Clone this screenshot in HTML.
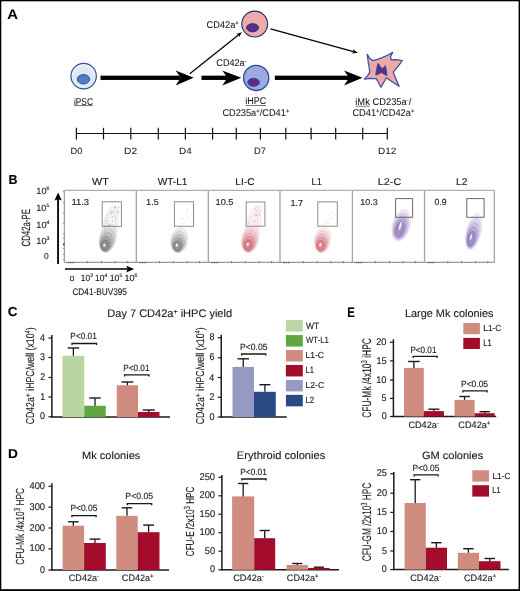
<!DOCTYPE html>
<html><head><meta charset="utf-8"><style>
html,body{margin:0;padding:0;background:#fff;}
svg{display:block;will-change:transform;}
text{font-family:"Liberation Sans", sans-serif;text-rendering:geometricPrecision;stroke:#1a1a1a;stroke-width:0.12px;}
.l{stroke-width:0.06px;}
</style></head><body>
<svg width="520" height="591" viewBox="0 0 520 591">
<rect width="520" height="591" fill="#fff"/>
<rect x="0" y="0" width="520" height="1.3" fill="#000" />
<rect x="0" y="0" width="1.3" height="591" fill="#000" />
<rect x="518.6" y="0" width="1.4" height="591" fill="#000" />
<rect x="0" y="589.2" width="520" height="1.8" fill="#000" />
<text x="7.39" y="19.00" font-size="13.967" fill="#000" class="l" font-weight="bold" textLength="10.73" lengthAdjust="spacingAndGlyphs">A</text>
<defs><radialGradient id="gp" cx="0.5" cy="0.55" r="0.5"><stop offset="0" stop-color="#d9e2f2"/><stop offset="0.8" stop-color="#e2e9f5"/><stop offset="1" stop-color="#f2f5fb"/></radialGradient></defs>
<circle cx="83.65" cy="76.1" r="12.7" fill="url(#gp)" stroke="#2f4f9a" stroke-width="1.2"/>
<ellipse cx="83.5" cy="79.25" rx="6.2" ry="4.7" fill="#4f7cc4" stroke="#2f4f9a" stroke-width="1.0"/>
<circle cx="254.7" cy="24.05" r="12.9" fill="#eeaaa8" stroke="#1f2c6e" stroke-width="1.1"/>
<ellipse cx="252.6" cy="27.75" rx="5.95" ry="4.05" fill="#5c2d8c" stroke="#1f2c6e" stroke-width="1.0"/>
<circle cx="256.2" cy="77.9" r="12.6" fill="#9eaadb" stroke="#2f4a9e" stroke-width="1.3"/>
<ellipse cx="253.6" cy="82.3" rx="5.9" ry="4.0" fill="#5c2a8a" stroke="#2f4a9e" stroke-width="1.0"/>
<polygon points="367.25,54.4 369.6,58.2 372.5,60.6 377.5,59.4 382.2,57.6 388,55 392.7,52.4 390.5,56.8 391.3,59.8 395.9,59.6 402.4,60.5 398.3,66.2 393.3,72.2 395.9,79.1 399.2,86.3 392.7,82.3 386.4,77.7 383.8,82.3 381,87.2 378.2,82.3 376.5,78.9 370.3,78.3 364.4,79.1 367.6,75.6 369.7,72.4 369.2,67.5 368.2,62" fill="#eea8a6" stroke="#3550a8" stroke-width="1.25" stroke-linejoin="round"/>
<polygon points="378.2,63.3 380.3,66.4 382.2,69 384,66.8 385.4,65.8 386.4,70.5 387,75.2 385.3,74.9 383.6,74 381.4,72.6 378.5,74.2 375.8,75 376.4,70.5 377.2,66.2" fill="#5a2e8c" stroke="#3550a8" stroke-width="1.0" stroke-linejoin="round"/>
<rect x="100.5" y="75.64999999999999" width="80.1" height="4.3" fill="#000" />
<polygon points="193.7,77.8 175.6,70.5 180.79999999999998,77.8 175.6,85.39999999999999" fill="#000"/>
<rect x="201.5" y="75.64999999999999" width="25.80000000000001" height="4.3" fill="#000" />
<polygon points="241.3,77.8 222.3,70.5 227.5,77.8 222.3,85.39999999999999" fill="#000"/>
<rect x="274.8" y="75.64999999999999" width="74.19999999999999" height="4.3" fill="#000" />
<polygon points="362.5,77.8 344,70.5 349.2,77.8 344,85.39999999999999" fill="#000"/>
<line x1="189.8" y1="73.8" x2="238.383457909405" y2="35.00783399172272" stroke="#000" stroke-width="1.25" />
<polygon points="241.9,32.2 238.97,37.35 238.54,34.88 236.23,33.91" fill="#000"/>
<line x1="270.5" y1="28.8" x2="353.4609804423758" y2="51.60714238965656" stroke="#000" stroke-width="1.25" />
<polygon points="357.8,52.8 351.91,53.46 353.65,51.66 353.08,49.22" fill="#000"/>
<text x="206.57" y="28.00" font-size="9.8" fill="#1a1a1a" class="l" textLength="32.18" lengthAdjust="spacingAndGlyphs">CD42a<tspan font-size="6.3" baseline-shift="3.1">+</tspan></text>
<text x="216.36" y="66.00" font-size="9.8" fill="#1a1a1a" class="l" textLength="30.27" lengthAdjust="spacingAndGlyphs">CD42a<tspan font-size="6.5" baseline-shift="3.4">-</tspan></text>
<text x="73.90" y="105.00" font-size="9.8" fill="#1a1a1a" class="l" textLength="19.03" lengthAdjust="spacingAndGlyphs">iPSC</text>
<line x1="74" y1="105.6" x2="92.9" y2="105.6" stroke="#666" stroke-width="0.9" />
<text x="245.37" y="104.00" font-size="9.8" fill="#1a1a1a" class="l" textLength="21.02" lengthAdjust="spacingAndGlyphs">iHPC</text>
<line x1="245.6" y1="105.5" x2="266" y2="105.5" stroke="#666" stroke-width="0.9" />
<text x="222.40" y="116.00" font-size="9.8" fill="#1a1a1a" class="l" textLength="66.95" lengthAdjust="spacingAndGlyphs">CD235a<tspan font-size="6.3" baseline-shift="3.1">+</tspan>/CD41<tspan font-size="6.3" baseline-shift="3.1">+</tspan></text>
<text x="355.27" y="104.60" font-size="9.8" fill="#1a1a1a" class="l" textLength="56.19" lengthAdjust="spacingAndGlyphs">iMk CD235a<tspan font-size="6.5" baseline-shift="3.4">-</tspan>/</text>
<line x1="355.8" y1="106.2" x2="369.6" y2="106.2" stroke="#666" stroke-width="0.9" />
<text x="352.41" y="116.00" font-size="9.8" fill="#1a1a1a" class="l" textLength="61.98" lengthAdjust="spacingAndGlyphs">CD41<tspan font-size="6.3" baseline-shift="3.1">+</tspan>/CD42a<tspan font-size="6.3" baseline-shift="3.1">+</tspan></text>
<line x1="76.4" y1="133.5" x2="387.3" y2="133.5" stroke="#111" stroke-width="1.2" />
<line x1="76.4" y1="127.8" x2="76.4" y2="139.4" stroke="#111" stroke-width="1.2" />
<line x1="103.5" y1="127.8" x2="103.5" y2="139.4" stroke="#111" stroke-width="1.2" />
<line x1="130.8" y1="127.8" x2="130.8" y2="139.4" stroke="#111" stroke-width="1.2" />
<line x1="158.3" y1="127.8" x2="158.3" y2="139.4" stroke="#111" stroke-width="1.2" />
<line x1="185.4" y1="127.8" x2="185.4" y2="139.4" stroke="#111" stroke-width="1.2" />
<line x1="212.6" y1="127.8" x2="212.6" y2="139.4" stroke="#111" stroke-width="1.2" />
<line x1="236.3" y1="127.8" x2="236.3" y2="139.4" stroke="#111" stroke-width="1.2" />
<line x1="260.4" y1="127.8" x2="260.4" y2="139.4" stroke="#111" stroke-width="1.2" />
<line x1="285.8" y1="127.8" x2="285.8" y2="139.4" stroke="#111" stroke-width="1.2" />
<line x1="311.1" y1="127.8" x2="311.1" y2="139.4" stroke="#111" stroke-width="1.2" />
<line x1="335.7" y1="127.8" x2="335.7" y2="139.4" stroke="#111" stroke-width="1.2" />
<line x1="362.7" y1="127.8" x2="362.7" y2="139.4" stroke="#111" stroke-width="1.2" />
<line x1="387.3" y1="127.8" x2="387.3" y2="139.4" stroke="#111" stroke-width="1.2" />
<text x="70.55" y="154.00" font-size="9.181" fill="#1a1a1a" class="l" textLength="11.82" lengthAdjust="spacingAndGlyphs">D0</text>
<text x="124.13" y="154.00" font-size="9.037" fill="#1a1a1a" class="l" textLength="12.98" lengthAdjust="spacingAndGlyphs">D2</text>
<text x="179.06" y="154.00" font-size="9.11" fill="#1a1a1a" class="l" textLength="12.63" lengthAdjust="spacingAndGlyphs">D4</text>
<text x="254.08" y="154.00" font-size="9.261" fill="#1a1a1a" class="l" textLength="11.90" lengthAdjust="spacingAndGlyphs">D7</text>
<text x="378.12" y="154.00" font-size="9.078" fill="#1a1a1a" class="l" textLength="18.25" lengthAdjust="spacingAndGlyphs">D12</text>
<text x="8.38" y="184.00" font-size="13.089" fill="#000" font-weight="bold" textLength="9.03" lengthAdjust="spacingAndGlyphs">B</text>
<line x1="64.4" y1="190.4" x2="64.4" y2="262.4" stroke="#a2a2a2" stroke-width="1.3" />
<line x1="136.3" y1="190.4" x2="136.3" y2="262.4" stroke="#a2a2a2" stroke-width="1.3" />
<line x1="208.3" y1="190.4" x2="208.3" y2="262.4" stroke="#a2a2a2" stroke-width="1.3" />
<line x1="280" y1="190.4" x2="280" y2="262.4" stroke="#a2a2a2" stroke-width="1.3" />
<line x1="352.4" y1="190.4" x2="352.4" y2="262.4" stroke="#a2a2a2" stroke-width="1.3" />
<line x1="424.5" y1="190.4" x2="424.5" y2="262.4" stroke="#a2a2a2" stroke-width="1.3" />
<line x1="494.4" y1="190.4" x2="494.4" y2="262.4" stroke="#a2a2a2" stroke-width="1.3" />
<line x1="64.4" y1="190.4" x2="494.4" y2="190.4" stroke="#b0b0b0" stroke-width="1.1" />
<line x1="64.4" y1="262.4" x2="136.3" y2="262.4" stroke="#9a9a9a" stroke-width="1.1" />
<line x1="67.9" y1="262.59999999999997" x2="74.4" y2="262.59999999999997" stroke="#555" stroke-width="1.3" stroke-dasharray="1.3 1"/>
<line x1="87.7" y1="261.2" x2="87.7" y2="263.2" stroke="#666" stroke-width="0.9" />
<line x1="101.5" y1="261.2" x2="101.5" y2="263.2" stroke="#666" stroke-width="0.9" />
<line x1="115.4" y1="261.2" x2="115.4" y2="263.2" stroke="#666" stroke-width="0.9" />
<line x1="127.7" y1="261.2" x2="127.7" y2="263.2" stroke="#666" stroke-width="0.9" />
<line x1="136.3" y1="262.4" x2="208.3" y2="262.4" stroke="#9a9a9a" stroke-width="1.1" />
<line x1="139.8" y1="262.59999999999997" x2="146.3" y2="262.59999999999997" stroke="#555" stroke-width="1.3" stroke-dasharray="1.3 1"/>
<line x1="159.60000000000002" y1="261.2" x2="159.60000000000002" y2="263.2" stroke="#666" stroke-width="0.9" />
<line x1="173.4" y1="261.2" x2="173.4" y2="263.2" stroke="#666" stroke-width="0.9" />
<line x1="187.3" y1="261.2" x2="187.3" y2="263.2" stroke="#666" stroke-width="0.9" />
<line x1="199.60000000000002" y1="261.2" x2="199.60000000000002" y2="263.2" stroke="#666" stroke-width="0.9" />
<line x1="208.3" y1="262.4" x2="280" y2="262.4" stroke="#9a9a9a" stroke-width="1.1" />
<line x1="211.8" y1="262.59999999999997" x2="218.3" y2="262.59999999999997" stroke="#555" stroke-width="1.3" stroke-dasharray="1.3 1"/>
<line x1="231.60000000000002" y1="261.2" x2="231.60000000000002" y2="263.2" stroke="#666" stroke-width="0.9" />
<line x1="245.4" y1="261.2" x2="245.4" y2="263.2" stroke="#666" stroke-width="0.9" />
<line x1="259.3" y1="261.2" x2="259.3" y2="263.2" stroke="#666" stroke-width="0.9" />
<line x1="271.6" y1="261.2" x2="271.6" y2="263.2" stroke="#666" stroke-width="0.9" />
<line x1="280" y1="262.4" x2="352.4" y2="262.4" stroke="#9a9a9a" stroke-width="1.1" />
<line x1="283.5" y1="262.59999999999997" x2="290" y2="262.59999999999997" stroke="#555" stroke-width="1.3" stroke-dasharray="1.3 1"/>
<line x1="303.3" y1="261.2" x2="303.3" y2="263.2" stroke="#666" stroke-width="0.9" />
<line x1="317.1" y1="261.2" x2="317.1" y2="263.2" stroke="#666" stroke-width="0.9" />
<line x1="331.0" y1="261.2" x2="331.0" y2="263.2" stroke="#666" stroke-width="0.9" />
<line x1="343.3" y1="261.2" x2="343.3" y2="263.2" stroke="#666" stroke-width="0.9" />
<line x1="352.4" y1="262.4" x2="424.5" y2="262.4" stroke="#9a9a9a" stroke-width="1.1" />
<line x1="355.9" y1="262.59999999999997" x2="362.4" y2="262.59999999999997" stroke="#555" stroke-width="1.3" stroke-dasharray="1.3 1"/>
<line x1="375.7" y1="261.2" x2="375.7" y2="263.2" stroke="#666" stroke-width="0.9" />
<line x1="389.5" y1="261.2" x2="389.5" y2="263.2" stroke="#666" stroke-width="0.9" />
<line x1="403.4" y1="261.2" x2="403.4" y2="263.2" stroke="#666" stroke-width="0.9" />
<line x1="415.7" y1="261.2" x2="415.7" y2="263.2" stroke="#666" stroke-width="0.9" />
<line x1="424.5" y1="262.4" x2="494.4" y2="262.4" stroke="#9a9a9a" stroke-width="1.1" />
<line x1="428.0" y1="262.59999999999997" x2="434.5" y2="262.59999999999997" stroke="#555" stroke-width="1.3" stroke-dasharray="1.3 1"/>
<line x1="447.8" y1="261.2" x2="447.8" y2="263.2" stroke="#666" stroke-width="0.9" />
<line x1="461.6" y1="261.2" x2="461.6" y2="263.2" stroke="#666" stroke-width="0.9" />
<line x1="475.5" y1="261.2" x2="475.5" y2="263.2" stroke="#666" stroke-width="0.9" />
<line x1="487.8" y1="261.2" x2="487.8" y2="263.2" stroke="#666" stroke-width="0.9" />
<text x="92.14" y="185.00" font-size="10.102" fill="#1a1a1a" textLength="16.80" lengthAdjust="spacingAndGlyphs">WT</text>
<text x="157.68" y="185.00" font-size="10.088" fill="#1a1a1a" textLength="29.76" lengthAdjust="spacingAndGlyphs">WT-L1</text>
<text x="235.33" y="185.00" font-size="9.798" fill="#1a1a1a" textLength="19.19" lengthAdjust="spacingAndGlyphs">LI-C</text>
<text x="311.57" y="185.00" font-size="9.938" fill="#1a1a1a" textLength="10.16" lengthAdjust="spacingAndGlyphs">L1</text>
<text x="377.87" y="185.00" font-size="9.699" fill="#1a1a1a" textLength="23.31" lengthAdjust="spacingAndGlyphs">L2-C</text>
<text x="455.90" y="185.00" font-size="9.827" fill="#1a1a1a" textLength="11.54" lengthAdjust="spacingAndGlyphs">L2</text>
<text x="71.41" y="205.00" font-size="8.628" fill="#1a1a1a" textLength="17.74" lengthAdjust="spacingAndGlyphs">11.3</text>
<text x="146.09" y="205.00" font-size="8.791" fill="#1a1a1a" textLength="12.73" lengthAdjust="spacingAndGlyphs">1.5</text>
<text x="215.59" y="205.00" font-size="8.597" fill="#1a1a1a" textLength="17.91" lengthAdjust="spacingAndGlyphs">10.5</text>
<text x="290.42" y="206.00" font-size="8.612" fill="#1a1a1a" textLength="12.50" lengthAdjust="spacingAndGlyphs">1.7</text>
<text x="360.27" y="205.00" font-size="8.567" fill="#1a1a1a" textLength="17.60" lengthAdjust="spacingAndGlyphs">10.3</text>
<text x="434.62" y="205.00" font-size="8.828" fill="#1a1a1a" textLength="12.07" lengthAdjust="spacingAndGlyphs">0.9</text>
<ellipse cx="109.75" cy="228.90" rx="7.22" ry="23.88" transform="rotate(11.5 109.75 228.90)" fill="#d4d4d4" fill-opacity="0.25" stroke="#999999" stroke-opacity="0.35" stroke-width="0.45"/>
<ellipse cx="110.00" cy="226.56" rx="4.68" ry="14.36" transform="rotate(12.1 110.00 226.56)" fill="#d4d4d4" fill-opacity="0.0" stroke="#999999" stroke-opacity="0.4" stroke-width="0.45"/>
<ellipse cx="107.75" cy="238.65" rx="8.50" ry="14.03" transform="rotate(13.4 107.75 238.65)" fill="#999999" fill-opacity="0.16" stroke="#999999" stroke-opacity="0.4" stroke-width="0.45"/>
<ellipse cx="107.11" cy="240.29" rx="7.33" ry="11.78" transform="rotate(12.9 107.11 240.29)" fill="#858585" fill-opacity="0.185" stroke="#858585" stroke-opacity="0.48750000000000004" stroke-width="0.45"/>
<ellipse cx="106.48" cy="241.93" rx="6.16" ry="9.53" transform="rotate(12.2 106.48 241.93)" fill="#727272" fill-opacity="0.21000000000000002" stroke="#727272" stroke-opacity="0.575" stroke-width="0.45"/>
<ellipse cx="105.84" cy="243.57" rx="4.99" ry="7.29" transform="rotate(11.0 105.84 243.57)" fill="#5e5e5e" fill-opacity="0.23500000000000001" stroke="#5e5e5e" stroke-opacity="0.6625" stroke-width="0.45"/>
<ellipse cx="105.21" cy="245.21" rx="3.82" ry="5.05" transform="rotate(8.7 105.21 245.21)" fill="#4a4a4a" fill-opacity="0.26" stroke="#4a4a4a" stroke-opacity="0.75" stroke-width="0.45"/>
<ellipse cx="104.3" cy="245.3" rx="1.1" ry="1.5" transform="rotate(15 104.3 245.3)" fill="#fff" fill-opacity="0.9"/>
<ellipse cx="179.25" cy="240.40" rx="8.50" ry="12.60" transform="rotate(10.3 179.25 240.40)" fill="#999999" fill-opacity="0.16" stroke="#999999" stroke-opacity="0.4" stroke-width="0.45"/>
<ellipse cx="178.80" cy="241.74" rx="7.33" ry="10.65" transform="rotate(9.8 178.80 241.74)" fill="#858585" fill-opacity="0.185" stroke="#858585" stroke-opacity="0.48750000000000004" stroke-width="0.45"/>
<ellipse cx="178.35" cy="243.08" rx="6.16" ry="8.70" transform="rotate(9.1 178.35 243.08)" fill="#727272" fill-opacity="0.21000000000000002" stroke="#727272" stroke-opacity="0.575" stroke-width="0.45"/>
<ellipse cx="177.91" cy="244.42" rx="4.99" ry="6.76" transform="rotate(8.1 177.91 244.42)" fill="#5e5e5e" fill-opacity="0.23500000000000001" stroke="#5e5e5e" stroke-opacity="0.6625" stroke-width="0.45"/>
<ellipse cx="177.46" cy="245.76" rx="3.82" ry="4.82" transform="rotate(6.2 177.46 245.76)" fill="#4a4a4a" fill-opacity="0.26" stroke="#4a4a4a" stroke-opacity="0.75" stroke-width="0.45"/>
<ellipse cx="176.8" cy="245.3" rx="1.1" ry="1.5" transform="rotate(15 176.8 245.3)" fill="#fff" fill-opacity="0.9"/>
<ellipse cx="252.15" cy="230.00" rx="7.22" ry="22.92" transform="rotate(10.9 252.15 230.00)" fill="#f4c8ce" fill-opacity="0.25" stroke="#e08a94" stroke-opacity="0.35" stroke-width="0.45"/>
<ellipse cx="252.36" cy="227.75" rx="4.68" ry="13.78" transform="rotate(11.6 252.36 227.75)" fill="#f4c8ce" fill-opacity="0.0" stroke="#e08a94" stroke-opacity="0.4" stroke-width="0.45"/>
<ellipse cx="249.90" cy="239.50" rx="8.50" ry="13.26" transform="rotate(11.3 249.90 239.50)" fill="#e08a94" fill-opacity="0.16" stroke="#e08a94" stroke-opacity="0.4" stroke-width="0.45"/>
<ellipse cx="249.48" cy="240.85" rx="7.33" ry="11.24" transform="rotate(11.0 249.48 240.85)" fill="#d87681" fill-opacity="0.185" stroke="#d87681" stroke-opacity="0.48750000000000004" stroke-width="0.45"/>
<ellipse cx="249.06" cy="242.20" rx="6.16" ry="9.21" transform="rotate(10.5 249.06 242.20)" fill="#d0616e" fill-opacity="0.21000000000000002" stroke="#d0616e" stroke-opacity="0.575" stroke-width="0.45"/>
<ellipse cx="248.63" cy="243.54" rx="4.99" ry="7.19" transform="rotate(9.8 248.63 243.54)" fill="#c84c5b" fill-opacity="0.23500000000000001" stroke="#c84c5b" stroke-opacity="0.6625" stroke-width="0.45"/>
<ellipse cx="248.21" cy="244.89" rx="3.82" ry="5.17" transform="rotate(8.5 248.21 244.89)" fill="#c03848" fill-opacity="0.26" stroke="#c03848" stroke-opacity="0.75" stroke-width="0.45"/>
<ellipse cx="247.8" cy="244.2" rx="1.1" ry="1.5" transform="rotate(15 247.8 244.2)" fill="#fff" fill-opacity="0.9"/>
<ellipse cx="322.50" cy="240.15" rx="8.00" ry="12.81" transform="rotate(9.0 322.50 240.15)" fill="#e08a94" fill-opacity="0.16" stroke="#e08a94" stroke-opacity="0.4" stroke-width="0.45"/>
<ellipse cx="322.10" cy="241.46" rx="6.90" ry="10.85" transform="rotate(8.6 322.10 241.46)" fill="#d87681" fill-opacity="0.185" stroke="#d87681" stroke-opacity="0.48750000000000004" stroke-width="0.45"/>
<ellipse cx="321.70" cy="242.77" rx="5.80" ry="8.90" transform="rotate(7.9 321.70 242.77)" fill="#d0616e" fill-opacity="0.21000000000000002" stroke="#d0616e" stroke-opacity="0.575" stroke-width="0.45"/>
<ellipse cx="321.30" cy="244.08" rx="4.70" ry="6.95" transform="rotate(6.9 321.30 244.08)" fill="#c84c5b" fill-opacity="0.23500000000000001" stroke="#c84c5b" stroke-opacity="0.6625" stroke-width="0.45"/>
<ellipse cx="320.89" cy="245.38" rx="3.60" ry="5.01" transform="rotate(5.2 320.89 245.38)" fill="#c03848" fill-opacity="0.26" stroke="#c03848" stroke-opacity="0.75" stroke-width="0.45"/>
<ellipse cx="320.3" cy="244.7" rx="1.1" ry="1.5" transform="rotate(15 320.3 244.7)" fill="#fff" fill-opacity="0.9"/>
<ellipse cx="401.25" cy="225.35" rx="8.75" ry="16.22" transform="rotate(15.2 401.25 225.35)" fill="#a792d0" fill-opacity="0.16" stroke="#a792d0" stroke-opacity="0.4" stroke-width="0.45"/>
<ellipse cx="400.89" cy="226.29" rx="7.55" ry="14.05" transform="rotate(15.0 400.89 226.29)" fill="#9680c4" fill-opacity="0.185" stroke="#9680c4" stroke-opacity="0.48750000000000004" stroke-width="0.45"/>
<ellipse cx="400.52" cy="227.23" rx="6.34" ry="11.88" transform="rotate(14.8 400.52 227.23)" fill="#866eb8" fill-opacity="0.21000000000000002" stroke="#866eb8" stroke-opacity="0.575" stroke-width="0.45"/>
<ellipse cx="400.16" cy="228.17" rx="5.14" ry="9.72" transform="rotate(14.4 400.16 228.17)" fill="#765cac" fill-opacity="0.23500000000000001" stroke="#765cac" stroke-opacity="0.6625" stroke-width="0.45"/>
<ellipse cx="399.80" cy="229.11" rx="3.94" ry="7.55" transform="rotate(13.8 399.80 229.11)" fill="#654aa0" fill-opacity="0.26" stroke="#654aa0" stroke-opacity="0.75" stroke-width="0.45"/>
<ellipse cx="400.3" cy="225.8" rx="0.9" ry="4.2" transform="rotate(15 400.3 225.8)" fill="#fff" fill-opacity="0.9"/>
<ellipse cx="473.75" cy="231.55" rx="7.25" ry="18.45" transform="rotate(13.3 473.75 231.55)" fill="#a792d0" fill-opacity="0.16" stroke="#a792d0" stroke-opacity="0.4" stroke-width="0.45"/>
<ellipse cx="473.15" cy="233.27" rx="6.25" ry="15.69" transform="rotate(13.0 473.15 233.27)" fill="#9680c4" fill-opacity="0.185" stroke="#9680c4" stroke-opacity="0.48750000000000004" stroke-width="0.45"/>
<ellipse cx="472.55" cy="235.00" rx="5.26" ry="12.94" transform="rotate(12.6 472.55 235.00)" fill="#866eb8" fill-opacity="0.21000000000000002" stroke="#866eb8" stroke-opacity="0.575" stroke-width="0.45"/>
<ellipse cx="471.95" cy="236.72" rx="4.26" ry="10.18" transform="rotate(12.0 471.95 236.72)" fill="#765cac" fill-opacity="0.23500000000000001" stroke="#765cac" stroke-opacity="0.6625" stroke-width="0.45"/>
<ellipse cx="471.35" cy="238.45" rx="3.26" ry="7.43" transform="rotate(10.9 471.35 238.45)" fill="#654aa0" fill-opacity="0.26" stroke="#654aa0" stroke-opacity="0.75" stroke-width="0.45"/>
<ellipse cx="471.0" cy="237.0" rx="0.8" ry="2.8" transform="rotate(15 471.0 237.0)" fill="#fff" fill-opacity="0.9"/>
<rect x="112.36" y="220.41" width="0.7" height="0.7" fill="#666" fill-opacity="0.55"/>
<rect x="105.27" y="225.05" width="0.7" height="0.7" fill="#666" fill-opacity="0.55"/>
<rect x="106.79" y="225.60" width="0.7" height="0.7" fill="#666" fill-opacity="0.55"/>
<rect x="112.33" y="216.78" width="0.7" height="0.7" fill="#666" fill-opacity="0.55"/>
<rect x="111.84" y="216.36" width="0.7" height="0.7" fill="#666" fill-opacity="0.55"/>
<rect x="104.86" y="219.90" width="0.7" height="0.7" fill="#666" fill-opacity="0.55"/>
<rect x="107.23" y="214.80" width="0.7" height="0.7" fill="#666" fill-opacity="0.55"/>
<rect x="108.70" y="225.24" width="0.7" height="0.7" fill="#666" fill-opacity="0.55"/>
<rect x="109.99" y="224.12" width="0.7" height="0.7" fill="#666" fill-opacity="0.55"/>
<rect x="116.64" y="208.61" width="0.7" height="0.7" fill="#666" fill-opacity="0.55"/>
<rect x="111.18" y="212.57" width="0.7" height="0.7" fill="#666" fill-opacity="0.55"/>
<rect x="109.15" y="225.74" width="0.7" height="0.7" fill="#666" fill-opacity="0.55"/>
<rect x="111.85" y="211.05" width="0.7" height="0.7" fill="#666" fill-opacity="0.55"/>
<rect x="110.81" y="213.19" width="0.7" height="0.7" fill="#666" fill-opacity="0.55"/>
<rect x="114.40" y="207.22" width="0.7" height="0.7" fill="#666" fill-opacity="0.55"/>
<rect x="107.62" y="212.89" width="0.7" height="0.7" fill="#666" fill-opacity="0.55"/>
<rect x="112.65" y="212.21" width="0.7" height="0.7" fill="#666" fill-opacity="0.55"/>
<rect x="104.37" y="224.99" width="0.7" height="0.7" fill="#666" fill-opacity="0.55"/>
<rect x="107.73" y="223.37" width="0.7" height="0.7" fill="#666" fill-opacity="0.55"/>
<rect x="114.02" y="209.66" width="0.7" height="0.7" fill="#666" fill-opacity="0.55"/>
<rect x="114.30" y="207.41" width="0.7" height="0.7" fill="#666" fill-opacity="0.55"/>
<rect x="110.50" y="212.20" width="0.7" height="0.7" fill="#666" fill-opacity="0.55"/>
<rect x="118.19" y="206.45" width="0.7" height="0.7" fill="#666" fill-opacity="0.55"/>
<rect x="117.35" y="211.64" width="0.7" height="0.7" fill="#666" fill-opacity="0.55"/>
<rect x="118.23" y="211.39" width="0.7" height="0.7" fill="#666" fill-opacity="0.55"/>
<rect x="106.95" y="221.15" width="0.7" height="0.7" fill="#666" fill-opacity="0.55"/>
<rect x="105.63" y="226.60" width="0.7" height="0.7" fill="#666" fill-opacity="0.55"/>
<rect x="112.16" y="224.81" width="0.7" height="0.7" fill="#666" fill-opacity="0.55"/>
<rect x="108.26" y="224.89" width="0.7" height="0.7" fill="#666" fill-opacity="0.55"/>
<rect x="118.22" y="206.62" width="0.7" height="0.7" fill="#666" fill-opacity="0.55"/>
<rect x="116.01" y="212.58" width="0.7" height="0.7" fill="#666" fill-opacity="0.55"/>
<rect x="115.24" y="207.28" width="0.7" height="0.7" fill="#666" fill-opacity="0.55"/>
<rect x="115.35" y="216.72" width="0.7" height="0.7" fill="#666" fill-opacity="0.55"/>
<rect x="109.27" y="224.03" width="0.7" height="0.7" fill="#666" fill-opacity="0.55"/>
<rect x="105.89" y="221.53" width="0.7" height="0.7" fill="#666" fill-opacity="0.55"/>
<rect x="112.24" y="220.72" width="0.7" height="0.7" fill="#666" fill-opacity="0.55"/>
<rect x="104.90" y="217.14" width="0.7" height="0.7" fill="#666" fill-opacity="0.55"/>
<rect x="110.42" y="210.29" width="0.7" height="0.7" fill="#666" fill-opacity="0.55"/>
<rect x="118.95" y="211.48" width="0.7" height="0.7" fill="#666" fill-opacity="0.55"/>
<rect x="118.07" y="207.01" width="0.7" height="0.7" fill="#666" fill-opacity="0.55"/>
<rect x="182.06" y="219.43" width="0.7" height="0.7" fill="#777" fill-opacity="0.5"/>
<rect x="186.12" y="214.46" width="0.7" height="0.7" fill="#777" fill-opacity="0.5"/>
<rect x="182.35" y="223.60" width="0.7" height="0.7" fill="#777" fill-opacity="0.5"/>
<rect x="181.08" y="225.95" width="0.7" height="0.7" fill="#777" fill-opacity="0.5"/>
<rect x="179.82" y="225.14" width="0.7" height="0.7" fill="#777" fill-opacity="0.5"/>
<rect x="186.57" y="209.14" width="0.7" height="0.7" fill="#777" fill-opacity="0.5"/>
<rect x="180.31" y="222.73" width="0.7" height="0.7" fill="#777" fill-opacity="0.5"/>
<rect x="184.79" y="221.98" width="0.7" height="0.7" fill="#777" fill-opacity="0.5"/>
<rect x="182.66" y="217.72" width="0.7" height="0.7" fill="#777" fill-opacity="0.5"/>
<rect x="179.15" y="225.61" width="0.7" height="0.7" fill="#777" fill-opacity="0.5"/>
<rect x="187.43" y="210.61" width="0.7" height="0.7" fill="#777" fill-opacity="0.5"/>
<rect x="187.00" y="207.88" width="0.7" height="0.7" fill="#777" fill-opacity="0.5"/>
<rect x="187.31" y="216.34" width="0.7" height="0.7" fill="#777" fill-opacity="0.5"/>
<rect x="252.38" y="221.44" width="0.7" height="0.7" fill="#c85060" fill-opacity="0.55"/>
<rect x="254.23" y="208.89" width="0.7" height="0.7" fill="#c85060" fill-opacity="0.55"/>
<rect x="254.83" y="221.22" width="0.7" height="0.7" fill="#c85060" fill-opacity="0.55"/>
<rect x="258.79" y="207.46" width="0.7" height="0.7" fill="#c85060" fill-opacity="0.55"/>
<rect x="255.56" y="215.29" width="0.7" height="0.7" fill="#c85060" fill-opacity="0.55"/>
<rect x="250.72" y="227.12" width="0.7" height="0.7" fill="#c85060" fill-opacity="0.55"/>
<rect x="260.25" y="210.78" width="0.7" height="0.7" fill="#c85060" fill-opacity="0.55"/>
<rect x="254.74" y="219.32" width="0.7" height="0.7" fill="#c85060" fill-opacity="0.55"/>
<rect x="253.73" y="223.82" width="0.7" height="0.7" fill="#c85060" fill-opacity="0.55"/>
<rect x="261.24" y="205.33" width="0.7" height="0.7" fill="#c85060" fill-opacity="0.55"/>
<rect x="257.58" y="211.58" width="0.7" height="0.7" fill="#c85060" fill-opacity="0.55"/>
<rect x="260.99" y="210.87" width="0.7" height="0.7" fill="#c85060" fill-opacity="0.55"/>
<rect x="256.69" y="209.83" width="0.7" height="0.7" fill="#c85060" fill-opacity="0.55"/>
<rect x="256.41" y="210.41" width="0.7" height="0.7" fill="#c85060" fill-opacity="0.55"/>
<rect x="258.43" y="205.27" width="0.7" height="0.7" fill="#c85060" fill-opacity="0.55"/>
<rect x="255.18" y="225.84" width="0.7" height="0.7" fill="#c85060" fill-opacity="0.55"/>
<rect x="261.60" y="209.94" width="0.7" height="0.7" fill="#c85060" fill-opacity="0.55"/>
<rect x="256.52" y="214.51" width="0.7" height="0.7" fill="#c85060" fill-opacity="0.55"/>
<rect x="255.45" y="206.35" width="0.7" height="0.7" fill="#c85060" fill-opacity="0.55"/>
<rect x="259.44" y="208.74" width="0.7" height="0.7" fill="#c85060" fill-opacity="0.55"/>
<rect x="253.90" y="221.59" width="0.7" height="0.7" fill="#c85060" fill-opacity="0.55"/>
<rect x="252.22" y="221.29" width="0.7" height="0.7" fill="#c85060" fill-opacity="0.55"/>
<rect x="258.15" y="206.95" width="0.7" height="0.7" fill="#c85060" fill-opacity="0.55"/>
<rect x="258.71" y="212.99" width="0.7" height="0.7" fill="#c85060" fill-opacity="0.55"/>
<rect x="256.84" y="205.88" width="0.7" height="0.7" fill="#c85060" fill-opacity="0.55"/>
<rect x="258.63" y="215.09" width="0.7" height="0.7" fill="#c85060" fill-opacity="0.55"/>
<rect x="257.05" y="222.83" width="0.7" height="0.7" fill="#c85060" fill-opacity="0.55"/>
<rect x="248.58" y="223.30" width="0.7" height="0.7" fill="#c85060" fill-opacity="0.55"/>
<rect x="254.93" y="215.27" width="0.7" height="0.7" fill="#c85060" fill-opacity="0.55"/>
<rect x="256.55" y="213.76" width="0.7" height="0.7" fill="#c85060" fill-opacity="0.55"/>
<rect x="256.37" y="214.92" width="0.7" height="0.7" fill="#c85060" fill-opacity="0.55"/>
<rect x="255.27" y="209.18" width="0.7" height="0.7" fill="#c85060" fill-opacity="0.55"/>
<rect x="260.61" y="208.95" width="0.7" height="0.7" fill="#c85060" fill-opacity="0.55"/>
<rect x="253.90" y="212.87" width="0.7" height="0.7" fill="#c85060" fill-opacity="0.55"/>
<rect x="254.74" y="211.43" width="0.7" height="0.7" fill="#c85060" fill-opacity="0.55"/>
<rect x="259.11" y="215.45" width="0.7" height="0.7" fill="#c85060" fill-opacity="0.55"/>
<rect x="261.27" y="206.56" width="0.7" height="0.7" fill="#c85060" fill-opacity="0.55"/>
<rect x="260.78" y="213.46" width="0.7" height="0.7" fill="#c85060" fill-opacity="0.55"/>
<rect x="254.09" y="224.59" width="0.7" height="0.7" fill="#c85060" fill-opacity="0.55"/>
<rect x="251.57" y="225.72" width="0.7" height="0.7" fill="#c85060" fill-opacity="0.55"/>
<rect x="330.38" y="212.20" width="0.7" height="0.7" fill="#d06070" fill-opacity="0.5"/>
<rect x="323.18" y="222.63" width="0.7" height="0.7" fill="#d06070" fill-opacity="0.5"/>
<rect x="328.81" y="222.53" width="0.7" height="0.7" fill="#d06070" fill-opacity="0.5"/>
<rect x="327.10" y="222.53" width="0.7" height="0.7" fill="#d06070" fill-opacity="0.5"/>
<rect x="332.18" y="217.62" width="0.7" height="0.7" fill="#d06070" fill-opacity="0.5"/>
<rect x="321.26" y="224.43" width="0.7" height="0.7" fill="#d06070" fill-opacity="0.5"/>
<rect x="326.61" y="221.38" width="0.7" height="0.7" fill="#d06070" fill-opacity="0.5"/>
<rect x="332.98" y="213.43" width="0.7" height="0.7" fill="#d06070" fill-opacity="0.5"/>
<rect x="329.17" y="218.73" width="0.7" height="0.7" fill="#d06070" fill-opacity="0.5"/>
<rect x="327.84" y="215.12" width="0.7" height="0.7" fill="#d06070" fill-opacity="0.5"/>
<rect x="323.40" y="225.29" width="0.7" height="0.7" fill="#d06070" fill-opacity="0.5"/>
<rect x="330.17" y="212.72" width="0.7" height="0.7" fill="#d06070" fill-opacity="0.5"/>
<rect x="330.71" y="218.00" width="0.7" height="0.7" fill="#d06070" fill-opacity="0.5"/>
<rect x="102.2" y="201.8" width="19.20" height="24.60" fill="none" stroke="#8c8c8c" stroke-width="1.0"/>
<rect x="174.4" y="201.8" width="19.10" height="24.50" fill="none" stroke="#8c8c8c" stroke-width="1.0"/>
<rect x="246.2" y="202" width="18.70" height="24.20" fill="none" stroke="#8c8c8c" stroke-width="1.0"/>
<rect x="317.8" y="201.9" width="19.50" height="24.30" fill="none" stroke="#8c8c8c" stroke-width="1.0"/>
<rect x="395.6" y="198.6" width="17.00" height="18.70" fill="none" stroke="#6a6a6a" stroke-width="1.0"/>
<rect x="466.8" y="198.6" width="17.30" height="18.70" fill="none" stroke="#6a6a6a" stroke-width="1.0"/>
<line x1="62.9" y1="191.2" x2="64.4" y2="191.2" stroke="#777" stroke-width="0.8" />
<line x1="62.9" y1="202.8" x2="64.4" y2="202.8" stroke="#777" stroke-width="0.8" />
<line x1="62.9" y1="213" x2="64.4" y2="213" stroke="#777" stroke-width="0.8" />
<line x1="62.9" y1="223.3" x2="64.4" y2="223.3" stroke="#777" stroke-width="0.8" />
<line x1="62.9" y1="233.6" x2="64.4" y2="233.6" stroke="#777" stroke-width="0.8" />
<line x1="62.9" y1="238.1" x2="64.4" y2="238.1" stroke="#777" stroke-width="0.8" />
<line x1="62.9" y1="243.9" x2="64.4" y2="243.9" stroke="#777" stroke-width="0.8" />
<line x1="62.9" y1="248.4" x2="64.4" y2="248.4" stroke="#777" stroke-width="0.8" />
<line x1="62.9" y1="254.2" x2="64.4" y2="254.2" stroke="#777" stroke-width="0.8" />
<line x1="62.9" y1="259.5" x2="64.4" y2="259.5" stroke="#777" stroke-width="0.8" />
<rect x="63.1" y="243.8" width="1.4" height="1.4" fill="#222"/>
<line x1="58.05" y1="198" x2="58.05" y2="263.9" stroke="#000" stroke-width="1.8" />
<polygon points="58.1,192.4 54.5,200.6 58.1,199.2 61.8,200.6" fill="#000"/>
<line x1="65" y1="269" x2="129" y2="269" stroke="#000" stroke-width="1.7" />
<polygon points="134.2,269 126.2,265.7 127.7,269 126.2,272.4" fill="#000"/>
<text x="36.28" y="194.00" font-size="9.0" fill="#1a1a1a" textLength="13.27" lengthAdjust="spacingAndGlyphs">10<tspan font-size="5.2" baseline-shift="3.6">6</tspan></text>
<text x="36.29" y="211.00" font-size="9.0" fill="#1a1a1a" textLength="13.10" lengthAdjust="spacingAndGlyphs">10<tspan font-size="5.2" baseline-shift="3.6">5</tspan></text>
<text x="36.29" y="228.00" font-size="9.0" fill="#1a1a1a" textLength="13.24" lengthAdjust="spacingAndGlyphs">10<tspan font-size="5.2" baseline-shift="3.6">4</tspan></text>
<text x="36.24" y="244.00" font-size="9.0" fill="#1a1a1a" textLength="13.28" lengthAdjust="spacingAndGlyphs">10<tspan font-size="5.2" baseline-shift="3.6">3</tspan></text>
<text x="44.05" y="259.00" font-size="8.634" fill="#1a1a1a" textLength="4.68" lengthAdjust="spacingAndGlyphs">0</text>
<text x="30.41" y="246.43" font-size="11.912" fill="#1a1a1a" textLength="37.34" lengthAdjust="spacingAndGlyphs" transform="rotate(-90 30.41 246.43)">CD42a-PE</text>
<text x="69.68" y="281.00" font-size="7.588" fill="#1a1a1a" textLength="4.62" lengthAdjust="spacingAndGlyphs">0</text>
<text x="80.83" y="281.00" font-size="9.0" fill="#1a1a1a" textLength="12.01" lengthAdjust="spacingAndGlyphs">10<tspan font-size="5.2" baseline-shift="3.6">3</tspan></text>
<text x="95.00" y="281.00" font-size="9.0" fill="#1a1a1a" textLength="12.23" lengthAdjust="spacingAndGlyphs">10<tspan font-size="5.2" baseline-shift="3.6">4</tspan></text>
<text x="109.75" y="281.00" font-size="9.0" fill="#1a1a1a" textLength="12.51" lengthAdjust="spacingAndGlyphs">10<tspan font-size="5.2" baseline-shift="3.6">5</tspan></text>
<text x="124.46" y="281.00" font-size="9.0" fill="#1a1a1a" textLength="13.01" lengthAdjust="spacingAndGlyphs">10<tspan font-size="5.2" baseline-shift="3.6">6</tspan></text>
<text x="72.42" y="295.00" font-size="9.633" fill="#1a1a1a" textLength="54.56" lengthAdjust="spacingAndGlyphs">CD41-BUV395</text>
<text x="7.88" y="316.00" font-size="13.0" fill="#000" font-weight="bold" textLength="9.70" lengthAdjust="spacingAndGlyphs">C</text>
<text x="107.34" y="316.70" font-size="11.0" fill="#1a1a1a" textLength="124.73" lengthAdjust="spacingAndGlyphs">Day 7 CD42a<tspan font-size="7" baseline-shift="3.2">+</tspan> iHPC yield</text>
<line x1="51.9" y1="335" x2="51.9" y2="417.70000000000005" stroke="#1a1a1a" stroke-width="1.5" />
<line x1="51.15" y1="417.1" x2="170" y2="417.1" stroke="#1a1a1a" stroke-width="1.5" />
<line x1="48.4" y1="416.75" x2="51.9" y2="416.75" stroke="#1a1a1a" stroke-width="1.2" />
<text x="45.02" y="419.00" font-size="9.8" fill="#1a1a1a" text-anchor="end" textLength="5.00" lengthAdjust="spacingAndGlyphs">0</text>
<line x1="48.4" y1="397" x2="51.9" y2="397" stroke="#1a1a1a" stroke-width="1.2" />
<text x="45.33" y="400.00" font-size="9.8" fill="#1a1a1a" text-anchor="end" textLength="5.00" lengthAdjust="spacingAndGlyphs">1</text>
<line x1="48.4" y1="377.5" x2="51.9" y2="377.5" stroke="#1a1a1a" stroke-width="1.2" />
<text x="45.31" y="380.00" font-size="9.8" fill="#1a1a1a" text-anchor="end" textLength="5.00" lengthAdjust="spacingAndGlyphs">2</text>
<line x1="48.4" y1="357.5" x2="51.9" y2="357.5" stroke="#1a1a1a" stroke-width="1.2" />
<text x="45.04" y="360.00" font-size="9.8" fill="#1a1a1a" text-anchor="end" textLength="5.00" lengthAdjust="spacingAndGlyphs">3</text>
<line x1="48.4" y1="338" x2="51.9" y2="338" stroke="#1a1a1a" stroke-width="1.2" />
<text x="45.04" y="341.00" font-size="9.8" fill="#1a1a1a" text-anchor="end" textLength="5.00" lengthAdjust="spacingAndGlyphs">4</text>
<rect x="62.5" y="355.75" width="21.75" height="61.35000000000002" fill="#b9d5a0" />
<line x1="73.375" y1="355.75" x2="73.375" y2="348" stroke="#1a1a1a" stroke-width="1.3" />
<line x1="67.6" y1="348" x2="79.15" y2="348" stroke="#1a1a1a" stroke-width="1.4" />
<rect x="84.25" y="405.75" width="21.5" height="11.350000000000023" fill="#62a640" />
<line x1="95.0" y1="405.75" x2="95.0" y2="398" stroke="#1a1a1a" stroke-width="1.3" />
<line x1="89.225" y1="398" x2="100.775" y2="398" stroke="#1a1a1a" stroke-width="1.4" />
<rect x="116.75" y="385.25" width="21.25" height="31.850000000000023" fill="#d08c7f" />
<line x1="127.375" y1="385.25" x2="127.375" y2="382" stroke="#1a1a1a" stroke-width="1.3" />
<line x1="121.435" y1="382" x2="133.315" y2="382" stroke="#1a1a1a" stroke-width="1.4" />
<rect x="138" y="412" width="21.5" height="5.100000000000023" fill="#a40c2b" />
<line x1="148.75" y1="412" x2="148.75" y2="410" stroke="#1a1a1a" stroke-width="1.3" />
<line x1="142.7" y1="410" x2="154.8" y2="410" stroke="#1a1a1a" stroke-width="1.4" />
<text x="70.37" y="339.00" font-size="9.1" fill="#1a1a1a" textLength="26.45" lengthAdjust="spacingAndGlyphs">P&lt;0.01</text>
<polyline points="72,345.1 72,343.5 96.6,343.5 96.6,345.1" fill="none" stroke="#1a1a1a" stroke-width="1.3"/>
<text x="123.30" y="371.00" font-size="9.1" fill="#1a1a1a" textLength="26.18" lengthAdjust="spacingAndGlyphs">P&lt;0.01</text>
<polyline points="124.6,376.5 124.6,374.9 148.9,374.9 148.9,376.5" fill="none" stroke="#1a1a1a" stroke-width="1.3"/>
<text x="33.67" y="424.36" font-size="11.468" fill="#1a1a1a" textLength="97.00" lengthAdjust="spacingAndGlyphs" transform="rotate(-90 33.67 424.36)">CD42a<tspan font-size="9" baseline-shift="3.4">+</tspan> iHPC/well (x10<tspan font-size="7.5" baseline-shift="4.2">4</tspan>)</text>
<line x1="221.25" y1="334.8" x2="221.25" y2="417.6" stroke="#1a1a1a" stroke-width="1.5" />
<line x1="220.5" y1="417" x2="286.8" y2="417" stroke="#1a1a1a" stroke-width="1.5" />
<line x1="217.75" y1="417" x2="221.25" y2="417" stroke="#1a1a1a" stroke-width="1.2" />
<text x="214.45" y="420.00" font-size="9.8" fill="#1a1a1a" text-anchor="end" textLength="5.00" lengthAdjust="spacingAndGlyphs">0</text>
<line x1="217.75" y1="397.3" x2="221.25" y2="397.3" stroke="#1a1a1a" stroke-width="1.2" />
<text x="214.41" y="400.00" font-size="9.8" fill="#1a1a1a" text-anchor="end" textLength="5.00" lengthAdjust="spacingAndGlyphs">2</text>
<line x1="217.75" y1="377.5" x2="221.25" y2="377.5" stroke="#1a1a1a" stroke-width="1.2" />
<text x="214.35" y="381.00" font-size="9.8" fill="#1a1a1a" text-anchor="end" textLength="5.00" lengthAdjust="spacingAndGlyphs">4</text>
<line x1="217.75" y1="357.8" x2="221.25" y2="357.8" stroke="#1a1a1a" stroke-width="1.2" />
<text x="214.52" y="360.00" font-size="9.8" fill="#1a1a1a" text-anchor="end" textLength="5.00" lengthAdjust="spacingAndGlyphs">6</text>
<line x1="217.75" y1="337.7" x2="221.25" y2="337.7" stroke="#1a1a1a" stroke-width="1.2" />
<text x="214.46" y="340.00" font-size="9.8" fill="#1a1a1a" text-anchor="end" textLength="5.00" lengthAdjust="spacingAndGlyphs">8</text>
<rect x="232.5" y="366.9" width="21.5" height="50.10000000000002" fill="#9699c1" />
<line x1="243.25" y1="366.9" x2="243.25" y2="358.8" stroke="#1a1a1a" stroke-width="1.3" />
<line x1="237.475" y1="358.8" x2="249.025" y2="358.8" stroke="#1a1a1a" stroke-width="1.4" />
<rect x="254" y="391.8" width="21.80000000000001" height="25.19999999999999" fill="#2b4a83" />
<line x1="264.9" y1="391.8" x2="264.9" y2="384.7" stroke="#1a1a1a" stroke-width="1.3" />
<line x1="259.4" y1="384.7" x2="270.4" y2="384.7" stroke="#1a1a1a" stroke-width="1.4" />
<text x="239.97" y="350.00" font-size="9.1" fill="#1a1a1a" textLength="27.58" lengthAdjust="spacingAndGlyphs">P&lt;0.05</text>
<polyline points="241.6,355.6 241.6,354 265.8,354 265.8,355.6" fill="none" stroke="#1a1a1a" stroke-width="1.3"/>
<text x="203.67" y="424.36" font-size="11.468" fill="#1a1a1a" textLength="97.00" lengthAdjust="spacingAndGlyphs" transform="rotate(-90 203.67 424.36)">CD42a<tspan font-size="9" baseline-shift="3.4">+</tspan> iHPC/well (x10<tspan font-size="7.5" baseline-shift="4.2">4</tspan>)</text>
<rect x="285.9" y="320.1" width="16.9" height="11.5" fill="#b9d5a0" />
<text x="306.06" y="329.00" font-size="8.956" fill="#1a1a1a" textLength="13.29" lengthAdjust="spacingAndGlyphs">WT</text>
<rect x="285.9" y="335.05" width="16.9" height="11.5" fill="#62a640" />
<text x="306.08" y="343.00" font-size="9.007" fill="#1a1a1a" textLength="22.76" lengthAdjust="spacingAndGlyphs">WT-L1</text>
<rect x="285.9" y="350.0" width="16.9" height="11.5" fill="#d08c7f" />
<text x="305.48" y="358.00" font-size="8.787" fill="#1a1a1a" textLength="18.50" lengthAdjust="spacingAndGlyphs">L1-C</text>
<rect x="285.9" y="364.95000000000005" width="16.9" height="11.5" fill="#a40c2b" />
<text x="305.56" y="373.00" font-size="9.221" fill="#1a1a1a" textLength="8.40" lengthAdjust="spacingAndGlyphs">L1</text>
<rect x="285.9" y="379.90000000000003" width="16.9" height="11.5" fill="#9699c1" />
<text x="305.52" y="388.00" font-size="8.69" fill="#1a1a1a" textLength="18.61" lengthAdjust="spacingAndGlyphs">L2-C</text>
<rect x="285.9" y="394.85" width="16.9" height="11.5" fill="#2b4a83" />
<text x="305.54" y="403.00" font-size="9.057" fill="#1a1a1a" textLength="8.69" lengthAdjust="spacingAndGlyphs">L2</text>
<text x="347.26" y="317.00" font-size="14.019" fill="#000" font-weight="bold" textLength="7.57" lengthAdjust="spacingAndGlyphs">E</text>
<text x="404.89" y="316.70" font-size="11.0" fill="#1a1a1a" textLength="88.72" lengthAdjust="spacingAndGlyphs">Large Mk colonies</text>
<rect x="463.3" y="323" width="16.599999999999966" height="11.199999999999989" fill="#d08c7f" />
<text x="483.27" y="331.00" font-size="8.762" fill="#1a1a1a" textLength="17.97" lengthAdjust="spacingAndGlyphs">L1-C</text>
<rect x="463.3" y="337.9" width="16.599999999999966" height="11.100000000000023" fill="#a40c2b" />
<text x="483.28" y="346.00" font-size="9.355" fill="#1a1a1a" textLength="8.39" lengthAdjust="spacingAndGlyphs">L1</text>
<line x1="393.4" y1="339.3" x2="393.4" y2="417.1" stroke="#1a1a1a" stroke-width="1.5" />
<line x1="392.65" y1="416.5" x2="496.2" y2="416.5" stroke="#1a1a1a" stroke-width="1.5" />
<line x1="389.9" y1="416.5" x2="393.4" y2="416.5" stroke="#1a1a1a" stroke-width="1.2" />
<text x="386.63" y="419.00" font-size="9.8" fill="#1a1a1a" text-anchor="end" textLength="5.00" lengthAdjust="spacingAndGlyphs">0</text>
<line x1="389.9" y1="398.4" x2="393.4" y2="398.4" stroke="#1a1a1a" stroke-width="1.2" />
<text x="386.58" y="401.00" font-size="9.8" fill="#1a1a1a" text-anchor="end" textLength="5.00" lengthAdjust="spacingAndGlyphs">5</text>
<line x1="389.9" y1="380" x2="393.4" y2="380" stroke="#1a1a1a" stroke-width="1.2" />
<text x="386.48" y="383.00" font-size="9.8" fill="#1a1a1a" text-anchor="end" textLength="10.30" lengthAdjust="spacingAndGlyphs">10</text>
<line x1="389.9" y1="360.9" x2="393.4" y2="360.9" stroke="#1a1a1a" stroke-width="1.2" />
<text x="386.72" y="364.00" font-size="9.8" fill="#1a1a1a" text-anchor="end" textLength="10.30" lengthAdjust="spacingAndGlyphs">15</text>
<line x1="389.9" y1="342.3" x2="393.4" y2="342.3" stroke="#1a1a1a" stroke-width="1.2" />
<text x="386.48" y="345.00" font-size="9.8" fill="#1a1a1a" text-anchor="end" textLength="10.30" lengthAdjust="spacingAndGlyphs">20</text>
<rect x="404" y="367.9" width="19.80000000000001" height="48.60000000000002" fill="#d08c7f" />
<line x1="413.9" y1="367.9" x2="413.9" y2="361.5" stroke="#1a1a1a" stroke-width="1.3" />
<line x1="408.125" y1="361.5" x2="419.67499999999995" y2="361.5" stroke="#1a1a1a" stroke-width="1.4" />
<rect x="423.8" y="411.1" width="20.099999999999966" height="5.399999999999977" fill="#a40c2b" />
<line x1="433.85" y1="411.1" x2="433.85" y2="409.2" stroke="#1a1a1a" stroke-width="1.3" />
<line x1="428.35" y1="409.2" x2="439.35" y2="409.2" stroke="#1a1a1a" stroke-width="1.4" />
<rect x="454.5" y="399.9" width="20.100000000000023" height="16.600000000000023" fill="#d08c7f" />
<line x1="464.55" y1="399.9" x2="464.55" y2="396.5" stroke="#1a1a1a" stroke-width="1.3" />
<line x1="459.27000000000004" y1="396.5" x2="469.83" y2="396.5" stroke="#1a1a1a" stroke-width="1.4" />
<rect x="474.6" y="413.2" width="20.099999999999966" height="3.3000000000000114" fill="#a40c2b" />
<line x1="484.65" y1="413.2" x2="484.65" y2="411.7" stroke="#1a1a1a" stroke-width="1.3" />
<line x1="479.42499999999995" y1="411.7" x2="489.875" y2="411.7" stroke="#1a1a1a" stroke-width="1.4" />
<text x="410.40" y="353.00" font-size="9.1" fill="#1a1a1a" textLength="26.04" lengthAdjust="spacingAndGlyphs">P&lt;0.01</text>
<polyline points="413.2,358.0 413.2,356.4 437.1,356.4 437.1,358.0" fill="none" stroke="#1a1a1a" stroke-width="1.3"/>
<text x="461.03" y="387.00" font-size="9.1" fill="#1a1a1a" textLength="27.06" lengthAdjust="spacingAndGlyphs">P&lt;0.05</text>
<polyline points="462.9,392.40000000000003 462.9,390.8 487.1,390.8 487.1,392.40000000000003" fill="none" stroke="#1a1a1a" stroke-width="1.3"/>
<text x="408.42" y="428.00" font-size="9.3" fill="#1a1a1a" textLength="30.63" lengthAdjust="spacingAndGlyphs">CD42a<tspan font-size="6.5" baseline-shift="3.4">-</tspan></text>
<text x="458.33" y="428.00" font-size="9.3" fill="#1a1a1a" textLength="32.12" lengthAdjust="spacingAndGlyphs">CD42a<tspan font-size="6.3" baseline-shift="3.1">+</tspan></text>
<text x="371.05" y="417.75" font-size="12.514" fill="#1a1a1a" textLength="79.62" lengthAdjust="spacingAndGlyphs" transform="rotate(-90 371.05 417.75)">CFU-Mk /4x10<tspan font-size="8.8" baseline-shift="4.3">3</tspan> iHPC</text>
<text x="7.94" y="458.00" font-size="12.857" fill="#000" font-weight="bold" textLength="9.90" lengthAdjust="spacingAndGlyphs">D</text>
<text x="82.08" y="459.00" font-size="10.488" fill="#1a1a1a" textLength="58.24" lengthAdjust="spacingAndGlyphs">Mk colonies</text>
<line x1="51.9" y1="483.2" x2="51.9" y2="570.6" stroke="#1a1a1a" stroke-width="1.5" />
<line x1="51.15" y1="570" x2="169" y2="570" stroke="#1a1a1a" stroke-width="1.5" />
<line x1="48.4" y1="570" x2="51.9" y2="570" stroke="#1a1a1a" stroke-width="1.2" />
<text x="45.02" y="573.00" font-size="9.8" fill="#1a1a1a" text-anchor="end" textLength="5.00" lengthAdjust="spacingAndGlyphs">0</text>
<line x1="48.4" y1="548.9" x2="51.9" y2="548.9" stroke="#1a1a1a" stroke-width="1.2" />
<text x="45.07" y="551.00" font-size="9.8" fill="#1a1a1a" text-anchor="end" textLength="15.60" lengthAdjust="spacingAndGlyphs">100</text>
<line x1="48.4" y1="528" x2="51.9" y2="528" stroke="#1a1a1a" stroke-width="1.2" />
<text x="45.07" y="531.00" font-size="9.8" fill="#1a1a1a" text-anchor="end" textLength="15.60" lengthAdjust="spacingAndGlyphs">200</text>
<line x1="48.4" y1="507.2" x2="51.9" y2="507.2" stroke="#1a1a1a" stroke-width="1.2" />
<text x="45.05" y="510.00" font-size="9.8" fill="#1a1a1a" text-anchor="end" textLength="15.60" lengthAdjust="spacingAndGlyphs">300</text>
<line x1="48.4" y1="486.3" x2="51.9" y2="486.3" stroke="#1a1a1a" stroke-width="1.2" />
<text x="45.06" y="489.00" font-size="9.8" fill="#1a1a1a" text-anchor="end" textLength="15.60" lengthAdjust="spacingAndGlyphs">400</text>
<rect x="62.6" y="525.7" width="21.499999999999993" height="44.299999999999955" fill="#d08c7f" />
<line x1="73.35" y1="525.7" x2="73.35" y2="521.8" stroke="#1a1a1a" stroke-width="1.3" />
<line x1="68.125" y1="521.8" x2="78.57499999999999" y2="521.8" stroke="#1a1a1a" stroke-width="1.4" />
<rect x="84.1" y="543" width="21.700000000000003" height="27" fill="#a40c2b" />
<line x1="94.94999999999999" y1="543" x2="94.94999999999999" y2="539.1" stroke="#1a1a1a" stroke-width="1.3" />
<line x1="89.505" y1="539.1" x2="100.39499999999998" y2="539.1" stroke="#1a1a1a" stroke-width="1.4" />
<rect x="116.3" y="515.8" width="21.39999999999999" height="54.200000000000045" fill="#d08c7f" />
<line x1="127.0" y1="515.8" x2="127.0" y2="507.8" stroke="#1a1a1a" stroke-width="1.3" />
<line x1="121.72" y1="507.8" x2="132.28" y2="507.8" stroke="#1a1a1a" stroke-width="1.4" />
<rect x="137.7" y="532.2" width="21.80000000000001" height="37.799999999999955" fill="#a40c2b" />
<line x1="148.6" y1="532.2" x2="148.6" y2="525.1" stroke="#1a1a1a" stroke-width="1.3" />
<line x1="143.20999999999998" y1="525.1" x2="153.99" y2="525.1" stroke="#1a1a1a" stroke-width="1.4" />
<text x="70.38" y="511.00" font-size="9.1" fill="#1a1a1a" textLength="26.97" lengthAdjust="spacingAndGlyphs">P&lt;0.05</text>
<polyline points="71.9,517.2 71.9,515.6 96.1,515.6 96.1,517.2" fill="none" stroke="#1a1a1a" stroke-width="1.3"/>
<text x="125.37" y="499.00" font-size="9.1" fill="#1a1a1a" textLength="27.73" lengthAdjust="spacingAndGlyphs">P&lt;0.05</text>
<polyline points="127.2,505.20000000000005 127.2,503.6 151.7,503.6 151.7,505.20000000000005" fill="none" stroke="#1a1a1a" stroke-width="1.3"/>
<text x="68.77" y="581.00" font-size="9.3" fill="#1a1a1a" textLength="30.45" lengthAdjust="spacingAndGlyphs">CD42a<tspan font-size="6.5" baseline-shift="3.4">-</tspan></text>
<text x="121.84" y="581.00" font-size="9.3" fill="#1a1a1a" textLength="31.83" lengthAdjust="spacingAndGlyphs">CD42a<tspan font-size="6.3" baseline-shift="3.1">+</tspan></text>
<text x="24.39" y="564.74" font-size="11.687" fill="#1a1a1a" textLength="76.70" lengthAdjust="spacingAndGlyphs" transform="rotate(-90 24.39 564.74)">CFU-Mk /4x10<tspan font-size="8.8" baseline-shift="4.3">3</tspan> HPC</text>
<text x="236.88" y="458.70" font-size="11.0" fill="#1a1a1a" textLength="88.34" lengthAdjust="spacingAndGlyphs">Erythroid colonies</text>
<line x1="221.9" y1="475" x2="221.9" y2="570.4" stroke="#1a1a1a" stroke-width="1.5" />
<line x1="221.15" y1="569.8" x2="339" y2="569.8" stroke="#1a1a1a" stroke-width="1.5" />
<line x1="218.4" y1="569.8" x2="221.9" y2="569.8" stroke="#1a1a1a" stroke-width="1.2" />
<text x="215.02" y="572.00" font-size="9.8" fill="#1a1a1a" text-anchor="end" textLength="5.00" lengthAdjust="spacingAndGlyphs">0</text>
<line x1="218.4" y1="551.2" x2="221.9" y2="551.2" stroke="#1a1a1a" stroke-width="1.2" />
<text x="215.12" y="554.00" font-size="9.8" fill="#1a1a1a" text-anchor="end" textLength="10.30" lengthAdjust="spacingAndGlyphs">50</text>
<line x1="218.4" y1="532.7" x2="221.9" y2="532.7" stroke="#1a1a1a" stroke-width="1.2" />
<text x="215.07" y="535.00" font-size="9.8" fill="#1a1a1a" text-anchor="end" textLength="15.60" lengthAdjust="spacingAndGlyphs">100</text>
<line x1="218.4" y1="514.2" x2="221.9" y2="514.2" stroke="#1a1a1a" stroke-width="1.2" />
<text x="215.09" y="517.00" font-size="9.8" fill="#1a1a1a" text-anchor="end" textLength="15.60" lengthAdjust="spacingAndGlyphs">150</text>
<line x1="218.4" y1="495.8" x2="221.9" y2="495.8" stroke="#1a1a1a" stroke-width="1.2" />
<text x="215.07" y="498.00" font-size="9.8" fill="#1a1a1a" text-anchor="end" textLength="15.60" lengthAdjust="spacingAndGlyphs">200</text>
<line x1="218.4" y1="477.3" x2="221.9" y2="477.3" stroke="#1a1a1a" stroke-width="1.2" />
<text x="215.06" y="480.00" font-size="9.8" fill="#1a1a1a" text-anchor="end" textLength="15.60" lengthAdjust="spacingAndGlyphs">250</text>
<rect x="232.1" y="496.4" width="22.099999999999994" height="73.39999999999998" fill="#d08c7f" />
<line x1="243.14999999999998" y1="496.4" x2="243.14999999999998" y2="483.5" stroke="#1a1a1a" stroke-width="1.3" />
<line x1="238.03499999999997" y1="483.5" x2="248.265" y2="483.5" stroke="#1a1a1a" stroke-width="1.4" />
<rect x="254.2" y="538.2" width="21.0" height="31.59999999999991" fill="#a40c2b" />
<line x1="264.7" y1="538.2" x2="264.7" y2="530.5" stroke="#1a1a1a" stroke-width="1.3" />
<line x1="259.64" y1="530.5" x2="269.76" y2="530.5" stroke="#1a1a1a" stroke-width="1.4" />
<rect x="286.5" y="565" width="21.600000000000023" height="4.7999999999999545" fill="#d08c7f" />
<line x1="297.3" y1="565" x2="297.3" y2="563.5" stroke="#1a1a1a" stroke-width="1.3" />
<line x1="292.24" y1="563.5" x2="302.36" y2="563.5" stroke="#1a1a1a" stroke-width="1.4" />
<rect x="308.1" y="568" width="21.5" height="1.7999999999999545" fill="#a40c2b" />
<line x1="318.85" y1="568" x2="318.85" y2="567.2" stroke="#1a1a1a" stroke-width="1.3" />
<line x1="313.735" y1="567.2" x2="323.96500000000003" y2="567.2" stroke="#1a1a1a" stroke-width="1.4" />
<text x="240.35" y="475.00" font-size="9.1" fill="#1a1a1a" textLength="26.46" lengthAdjust="spacingAndGlyphs">P&lt;0.01</text>
<polyline points="241.9,480.6 241.9,479 266.1,479 266.1,480.6" fill="none" stroke="#1a1a1a" stroke-width="1.3"/>
<text x="233.19" y="581.00" font-size="9.3" fill="#1a1a1a" textLength="30.86" lengthAdjust="spacingAndGlyphs">CD42a<tspan font-size="6.5" baseline-shift="3.4">-</tspan></text>
<text x="286.84" y="581.00" font-size="9.3" fill="#1a1a1a" textLength="31.83" lengthAdjust="spacingAndGlyphs">CD42a<tspan font-size="6.3" baseline-shift="3.1">+</tspan></text>
<text x="193.96" y="556.14" font-size="11.63" fill="#1a1a1a" textLength="69.36" lengthAdjust="spacingAndGlyphs" transform="rotate(-90 193.96 556.14)">CFU-E /2x10<tspan font-size="8.8" baseline-shift="4.3">3</tspan> HPC</text>
<text x="421.98" y="459.00" font-size="10.699" fill="#1a1a1a" textLength="61.22" lengthAdjust="spacingAndGlyphs">GM colonies</text>
<rect x="472.3" y="470.3" width="16.69999999999999" height="11.300000000000011" fill="#d08c7f" />
<text x="492.47" y="479.00" font-size="8.796" fill="#1a1a1a" textLength="18.09" lengthAdjust="spacingAndGlyphs">L1-C</text>
<rect x="472.3" y="485.2" width="16.69999999999999" height="11.400000000000034" fill="#a40c2b" />
<text x="492.33" y="493.00" font-size="8.813" fill="#1a1a1a" textLength="8.11" lengthAdjust="spacingAndGlyphs">L1</text>
<line x1="393.8" y1="472" x2="393.8" y2="570.2" stroke="#1a1a1a" stroke-width="1.5" />
<line x1="393.05" y1="569.6" x2="508.9" y2="569.6" stroke="#1a1a1a" stroke-width="1.5" />
<line x1="390.3" y1="569.6" x2="393.8" y2="569.6" stroke="#1a1a1a" stroke-width="1.2" />
<text x="386.82" y="572.00" font-size="9.8" fill="#1a1a1a" text-anchor="end" textLength="5.00" lengthAdjust="spacingAndGlyphs">0</text>
<line x1="390.3" y1="551" x2="393.8" y2="551" stroke="#1a1a1a" stroke-width="1.2" />
<text x="386.99" y="554.00" font-size="9.8" fill="#1a1a1a" text-anchor="end" textLength="5.00" lengthAdjust="spacingAndGlyphs">5</text>
<line x1="390.3" y1="531.5" x2="393.8" y2="531.5" stroke="#1a1a1a" stroke-width="1.2" />
<text x="387.04" y="534.00" font-size="9.8" fill="#1a1a1a" text-anchor="end" textLength="10.30" lengthAdjust="spacingAndGlyphs">10</text>
<line x1="390.3" y1="512.4" x2="393.8" y2="512.4" stroke="#1a1a1a" stroke-width="1.2" />
<text x="386.99" y="515.00" font-size="9.8" fill="#1a1a1a" text-anchor="end" textLength="10.30" lengthAdjust="spacingAndGlyphs">15</text>
<line x1="390.3" y1="493.2" x2="393.8" y2="493.2" stroke="#1a1a1a" stroke-width="1.2" />
<text x="387.04" y="496.00" font-size="9.8" fill="#1a1a1a" text-anchor="end" textLength="10.30" lengthAdjust="spacingAndGlyphs">20</text>
<line x1="390.3" y1="473.7" x2="393.8" y2="473.7" stroke="#1a1a1a" stroke-width="1.2" />
<text x="386.99" y="476.00" font-size="9.8" fill="#1a1a1a" text-anchor="end" textLength="10.30" lengthAdjust="spacingAndGlyphs">25</text>
<rect x="404.6" y="503" width="21.19999999999999" height="66.60000000000002" fill="#d08c7f" />
<line x1="415.20000000000005" y1="503" x2="415.20000000000005" y2="479.7" stroke="#1a1a1a" stroke-width="1.3" />
<line x1="409.975" y1="479.7" x2="420.42500000000007" y2="479.7" stroke="#1a1a1a" stroke-width="1.4" />
<rect x="425.8" y="547.7" width="21.19999999999999" height="21.899999999999977" fill="#a40c2b" />
<line x1="436.4" y1="547.7" x2="436.4" y2="542.7" stroke="#1a1a1a" stroke-width="1.3" />
<line x1="431.17499999999995" y1="542.7" x2="441.625" y2="542.7" stroke="#1a1a1a" stroke-width="1.4" />
<rect x="457.8" y="552.8" width="21.19999999999999" height="16.800000000000068" fill="#d08c7f" />
<line x1="468.4" y1="552.8" x2="468.4" y2="548.7" stroke="#1a1a1a" stroke-width="1.3" />
<line x1="463.17499999999995" y1="548.7" x2="473.625" y2="548.7" stroke="#1a1a1a" stroke-width="1.4" />
<rect x="479" y="561.2" width="21.5" height="8.399999999999977" fill="#a40c2b" />
<line x1="489.75" y1="561.2" x2="489.75" y2="558.5" stroke="#1a1a1a" stroke-width="1.3" />
<line x1="484.525" y1="558.5" x2="494.975" y2="558.5" stroke="#1a1a1a" stroke-width="1.4" />
<text x="412.39" y="471.00" font-size="9.1" fill="#1a1a1a" textLength="26.97" lengthAdjust="spacingAndGlyphs">P&lt;0.05</text>
<polyline points="414.1,476.40000000000003 414.1,474.8 438.1,474.8 438.1,476.40000000000003" fill="none" stroke="#1a1a1a" stroke-width="1.3"/>
<text x="410.19" y="581.00" font-size="9.3" fill="#1a1a1a" textLength="30.86" lengthAdjust="spacingAndGlyphs">CD42a<tspan font-size="6.5" baseline-shift="3.4">-</tspan></text>
<text x="464.02" y="581.00" font-size="9.3" fill="#1a1a1a" textLength="32.08" lengthAdjust="spacingAndGlyphs">CD42a<tspan font-size="6.3" baseline-shift="3.1">+</tspan></text>
<text x="371.16" y="561.14" font-size="12.501" fill="#1a1a1a" textLength="78.44" lengthAdjust="spacingAndGlyphs" transform="rotate(-90 371.16 561.14)">CFU-GM /2x10<tspan font-size="8.8" baseline-shift="4.3">3</tspan> HPC</text>
</svg>
</body></html>
